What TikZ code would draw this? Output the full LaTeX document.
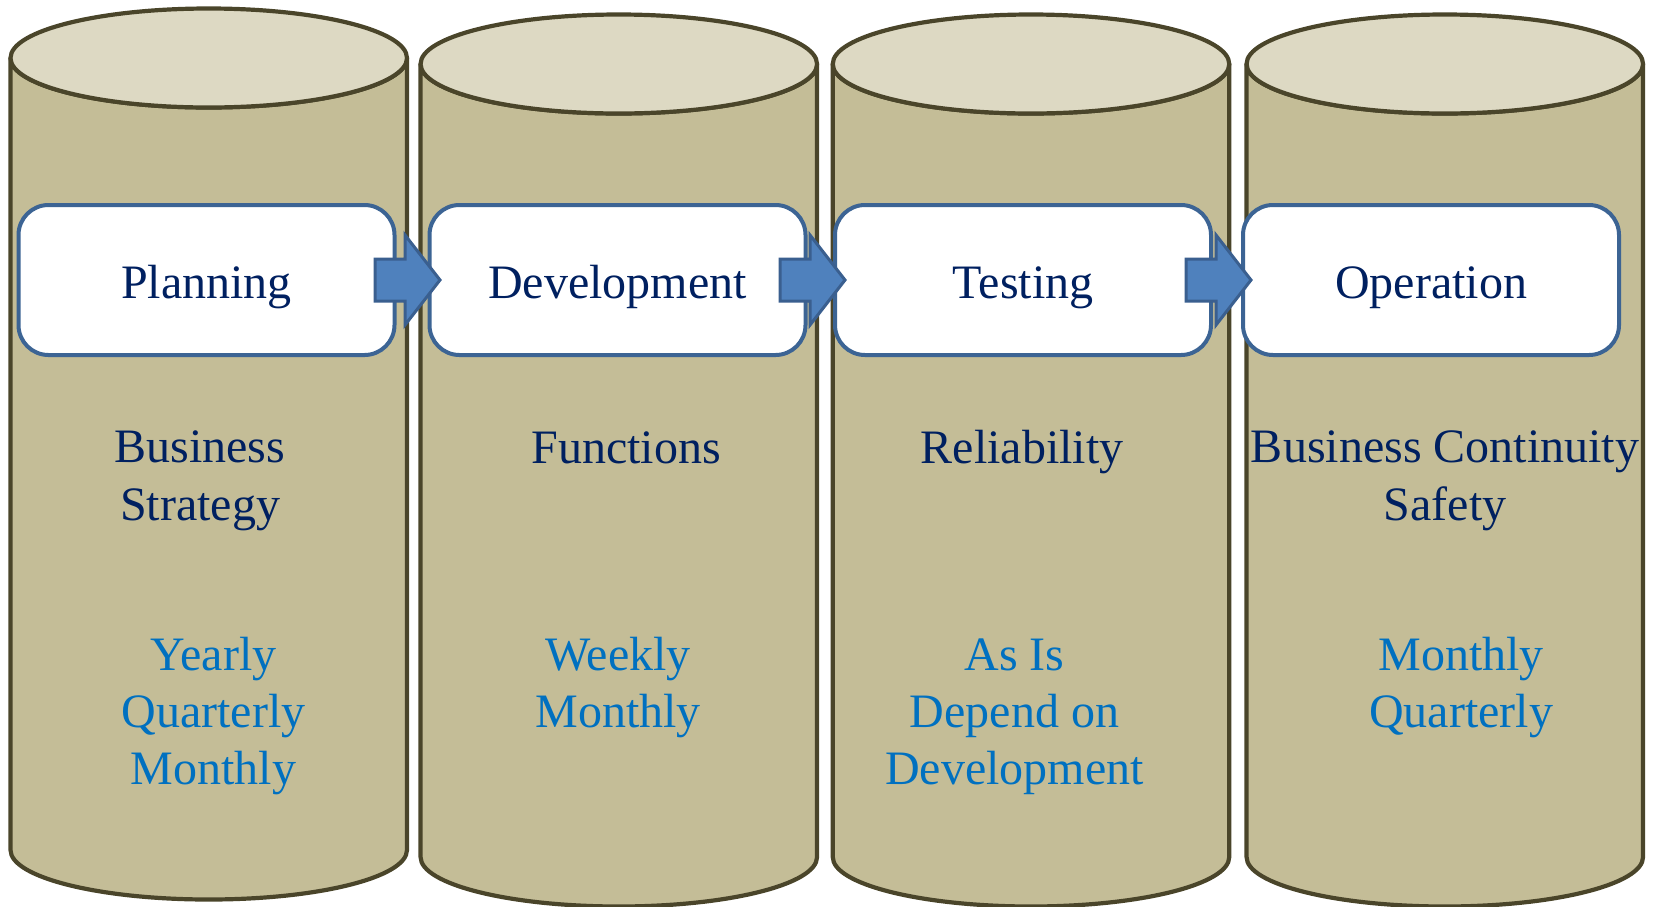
\documentclass[tikz,border=0pt]{standalone}
\usepackage{fontspec}
\setmainfont{Liberation Serif}
\definecolor{cylbody}{HTML}{C4BD97}
\definecolor{cyltop}{HTML}{DDD9C3}
\definecolor{cylline}{HTML}{4A452A}
\definecolor{boxline}{HTML}{3C6494}
\definecolor{arrowfill}{HTML}{4F81BD}
\definecolor{arrowline}{HTML}{3A5F8F}
\definecolor{navy}{HTML}{002060}
\definecolor{lblue}{HTML}{0070C0}
\newcommand\drawcyl[3]{%
  \filldraw[cylside] (#1-198.25,#2) -- (#1-198.25,#3)
    arc[start angle=180,end angle=0,x radius=198.25,y radius=49.5]
    -- (#1+198.25,#2)
    arc[start angle=0,end angle=180,x radius=198.25,y radius=49.5] -- cycle;
  \filldraw[cylcap] (#1,#2) ellipse[x radius=198.25,y radius=49.5];
}
\newcommand\drawarrow[1]{% #1 = tip x
  \filldraw[arrowshape] (#1-65,259) -- (#1-35,259) -- (#1-35,235) -- (#1,280)
    -- (#1-35,325) -- (#1-35,301) -- (#1-65,301) -- cycle;
}
\tikzset{
  cylside/.style={fill=cylbody,draw=cylline,line width=4.2pt,line join=round},
  cylcap/.style={fill=cyltop,draw=cylline,line width=4.2pt},
  stagebox/.style={draw=boxline,fill=white,line width=4pt,rounded corners=30pt,
    minimum width=376pt,minimum height=150pt,inner sep=0pt,
    text=navy,font=\fontsize{48}{57.5}\selectfont,
    text height=36pt,text depth=0pt},
  arrowshape/.style={fill=arrowfill,draw=arrowline,line width=3pt,line join=miter},
  goaltext/.style={text=navy,font=\fontsize{48}{57.5}\selectfont,align=center,
    anchor=base,inner sep=0pt},
  freqtext/.style={text=lblue,font=\fontsize{48}{57}\selectfont,align=center,
    anchor=base,inner sep=0pt}
}
\begin{document}
\begin{tikzpicture}[x=1pt,y=-1pt]
\useasboundingbox (0,0) rectangle (1653,906);
\drawcyl{208.75}{58}{850}
\drawcyl{618.8}{64}{857}
\drawcyl{1031}{64}{857}
\drawcyl{1444.8}{64}{857}

\node[stagebox] (s1) at (206.5,280) {Planning};
\node[stagebox] (s2) at (617.5,280) {Development};
\node[stagebox] (s3) at (1023,280) {Testing};
\node[stagebox] (s4) at (1431,280) {Operation};

\drawarrow{440}
\drawarrow{845}
\drawarrow{1251}

% anchor=base is the baseline of the last line
\node[goaltext] (g1) at (200,520) {Business\\Strategy};
\node[goaltext] (g2) at (626,463) {Functions};
\node[goaltext] (g3) at (1022,463) {Reliability};
\node[goaltext] (g4) at (1445,520) {Business Continuity\\Safety};

\node[freqtext] (f1) at (213.5,784) {Yearly\\Quarterly\\Monthly};
\node[freqtext] (f2) at (618,727) {Weekly\\Monthly};
\node[freqtext] (f3) at (1014.5,784) {As Is\\Depend on\\Development};
\node[freqtext] (f4) at (1461,727) {Monthly\\Quarterly};
\end{tikzpicture}
\end{document}
